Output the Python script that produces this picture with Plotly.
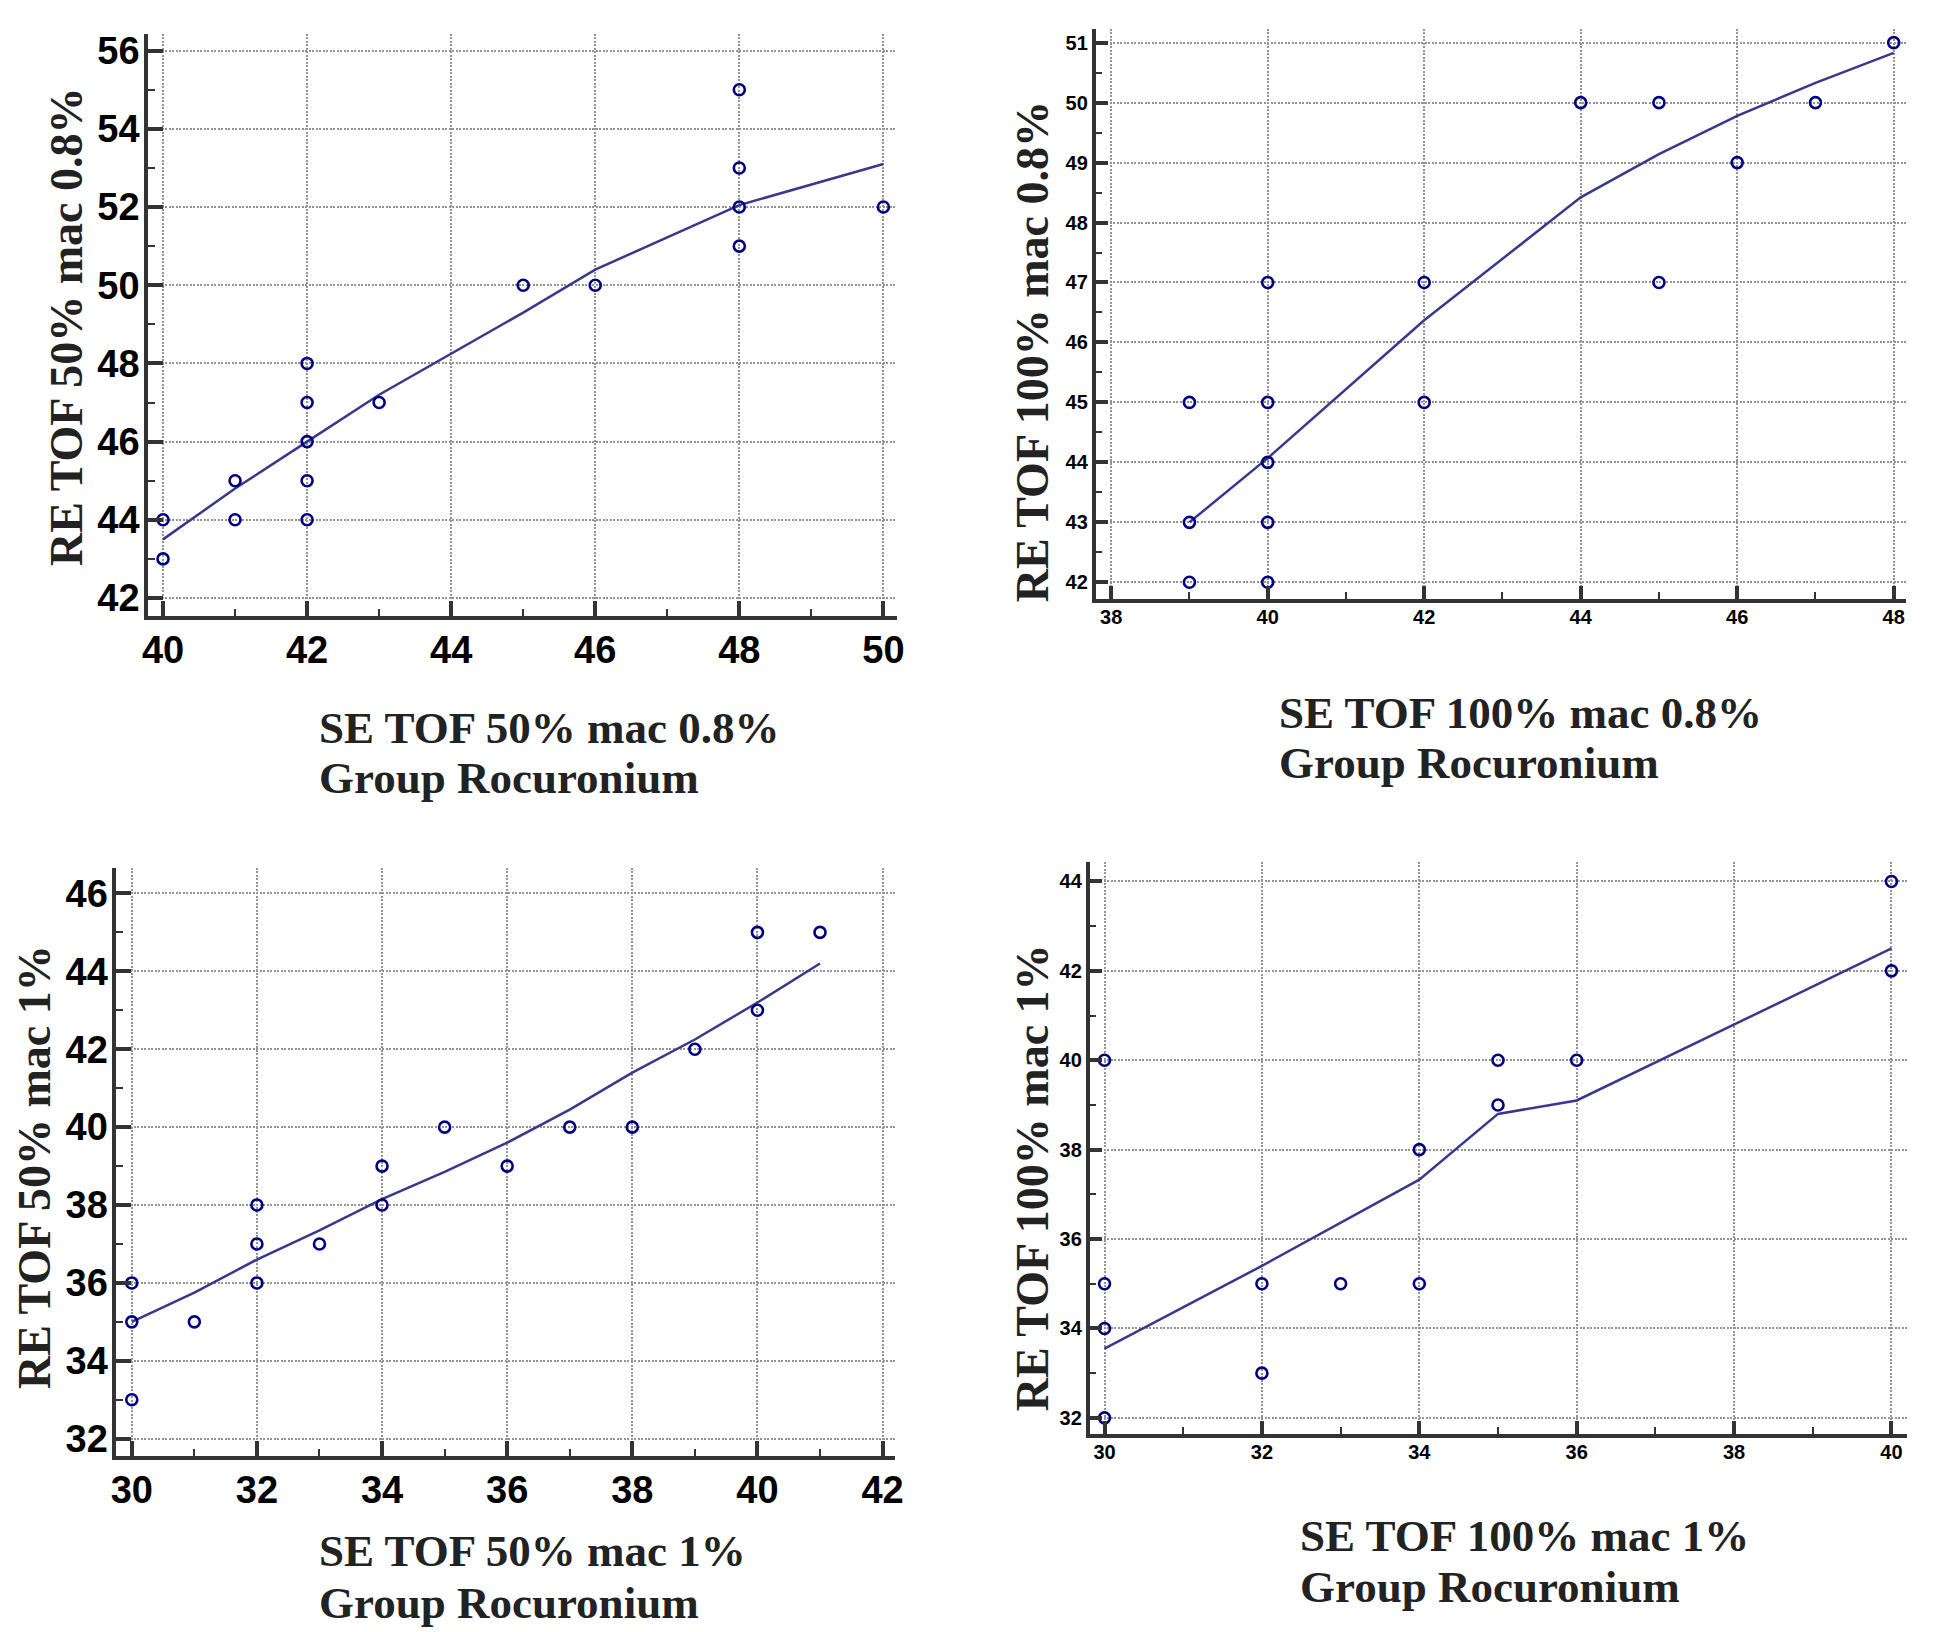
import plotly.graph_objects as go

W, H = 1945, 1632

# ---------------- data ----------------
p1_x = [40, 40, 41, 41, 42, 42, 42, 42, 42, 43, 45, 46, 48, 48, 48, 48, 50]
p1_y = [44, 43, 45, 44, 48, 47, 46, 45, 44, 47, 50, 50, 55, 53, 52, 51, 52]
p1_fit_x = [40, 41, 42, 43, 45, 46, 48, 50]
p1_fit_y = [43.5, 44.8, 46.0, 47.2, 49.3, 50.4, 52.05, 53.1]

p2_x = [39, 39, 39, 40, 40, 40, 40, 40, 42, 42, 44, 45, 45, 46, 47, 48]
p2_y = [45, 43, 42, 47, 45, 44, 43, 42, 47, 45, 50, 50, 47, 49, 50, 51]
p2_fit_x = [39, 40, 42, 44, 45, 46, 47, 48]
p2_fit_y = [43.0, 44.07, 46.37, 48.42, 49.14, 49.78, 50.33, 50.83]

p3_x = [30, 30, 30, 31, 32, 32, 32, 33, 34, 34, 35, 36, 37, 38, 39, 40, 40, 41]
p3_y = [36, 35, 33, 35, 38, 37, 36, 37, 39, 38, 40, 39, 40, 40, 42, 45, 43, 45]
p3_fit_x = [30, 31, 32, 33, 34, 35, 36, 37, 38, 39, 40, 41]
p3_fit_y = [35.0, 35.75, 36.6, 37.35, 38.15, 38.85, 39.6, 40.45, 41.4, 42.25, 43.2, 44.2]

p4_x = [30, 30, 30, 30, 32, 32, 33, 34, 34, 35, 35, 36, 40, 40]
p4_y = [40, 35, 34, 32, 35, 33, 35, 38, 35, 40, 39, 40, 44, 42]
p4_fit_x = [30, 32, 34, 35, 36, 40]
p4_fit_y = [33.55, 35.4, 37.33, 38.8, 39.1, 42.5]

x_titles = [["SE TOF 50% mac 0.8%", "Group Rocuronium"],
            ["SE TOF 100% mac 0.8%", "Group Rocuronium"],
            ["SE TOF 50% mac 1%", "Group Rocuronium"],
            ["SE TOF 100% mac 1%", "Group Rocuronium"]]
y_titles = ["RE TOF 50% mac 0.8%", "RE TOF 100% mac 0.8%",
            "RE TOF 50% mac 1%", "RE TOF 100% mac 1%"]

# ---------------- styling / layout ----------------
MARKER_COLOR = "#000080"
LINE_COLOR = "#38388c"
AXIS_COLOR = "#333333"
GRID_COLOR = "#949494"
SERIF = "Liberation Serif, Times New Roman, serif"
SANS = "Liberation Sans, Arial, sans-serif"


def px_x(p):
    return p / W


def px_y(p):
    return 1 - p / H


# pixel boxes of each plotting area: left, right, top, bottom
boxes = [(143, 898, 30, 615),
         (1098, 1915, 25, 598),
         (111, 896, 868, 1459),
         (1092, 1916, 862, 1437)]
xranges = [[39.79, 50.19], [37.80, 48.16], [29.75, 42.2], [29.81, 40.2]]
yranges = [[41.54, 56.43], [41.72, 51.23], [31.56, 46.66], [31.64, 44.44]]
xdt = [2, 2, 2, 2]
xminor = [1, 1, 1, 1]
ydt = [2, 1, 2, 2]
yminor = [1, 0.5, 1, 1]
tick_sizes = [38, 20, 38, 20]

# title positions (pixel)
ytitle_pos = [(61, 325), (1034, 350), (28, 1169), (1034, 1180)]
xtitle_pos = [(313, 728, 778), (1281, 712, 763), (313, 1555, 1607), (1302, 1540, 1591)]

datasets = [(p1_x, p1_y, p1_fit_x, p1_fit_y),
            (p2_x, p2_y, p2_fit_x, p2_fit_y),
            (p3_x, p3_y, p3_fit_x, p3_fit_y),
            (p4_x, p4_y, p4_fit_x, p4_fit_y)]

fig = go.Figure()
layout = dict(
    width=W, height=H,
    margin=dict(l=0, r=0, t=0, b=0),
    paper_bgcolor="white", plot_bgcolor="white",
    showlegend=False,
    annotations=[],
)

for i, (xs, ys, fx, fy) in enumerate(datasets):
    n = "" if i == 0 else str(i + 1)
    fig.add_trace(go.Scatter(x=fx, y=fy, mode="lines",
                             line=dict(color=LINE_COLOR, width=2.5),
                             xaxis="x" + n, yaxis="y" + n, hoverinfo="skip"))
    fig.add_trace(go.Scatter(x=xs, y=ys, mode="markers",
                             marker=dict(symbol="circle-open", size=11,
                                         color=MARKER_COLOR,
                                         line=dict(width=2.6, color=MARKER_COLOR)),
                             xaxis="x" + n, yaxis="y" + n))
    l, r, t, b = boxes[i]
    ts = tick_sizes[i]
    big = ts > 25
    common = dict(
        showline=True, linecolor=AXIS_COLOR, linewidth=3.5,
        ticks="inside", ticklen=15 if big else 13, tickwidth=3.5, tickcolor=AXIS_COLOR,
        showgrid=True, gridcolor=GRID_COLOR, gridwidth=1.6, griddash="2px,1.5px",
        zeroline=False,
        tickfont=dict(family=SANS, size=ts, color="#000000", weight="bold"),
        fixedrange=True,
    )
    layout["xaxis" + n] = dict(
        common, domain=[px_x(l), px_x(r)], range=xranges[i],
        anchor="y" + n, tick0=0, dtick=xdt[i],
        minor=dict(ticks="inside", ticklen=7, tickwidth=2.2, tickcolor=AXIS_COLOR,
                   dtick=xminor[i], tick0=0, showgrid=False),
        ticklabelstandoff=-2 if big else -3,
    )
    layout["yaxis" + n] = dict(
        common, domain=[px_y(b), px_y(t)], range=yranges[i],
        anchor="x" + n, tick0=0, dtick=ydt[i],
        minor=dict(ticks="inside", ticklen=7, tickwidth=2.2, tickcolor=AXIS_COLOR,
                   dtick=yminor[i], tick0=0, showgrid=False),
        ticklabelstandoff=-3 if big else 0,
    )
    # y title
    yx, yy = ytitle_pos[i]
    layout["annotations"].append(dict(
        text=y_titles[i], xref="paper", yref="paper",
        x=px_x(yx), y=px_y(yy), xanchor="center", yanchor="middle",
        textangle=-90, showarrow=False,
        font=dict(family=SERIF, size=46, color="#222222", weight="bold")))
    # x title (two lines)
    xx, y1, y2 = xtitle_pos[i]
    for txt, yy in zip(x_titles[i], (y1, y2)):
        layout["annotations"].append(dict(
            text=txt, xref="paper", yref="paper",
            x=px_x(xx), y=px_y(yy), xanchor="left", yanchor="middle",
            showarrow=False,
            font=dict(family=SERIF, size=45, color="#222222", weight="bold")))

fig.update_layout(**layout)
fig.write_html("out.html",
               config={"displayModeBar": False, "staticPlot": False},
               post_script="document.body.style.margin='0';document.body.style.overflow='hidden';")
